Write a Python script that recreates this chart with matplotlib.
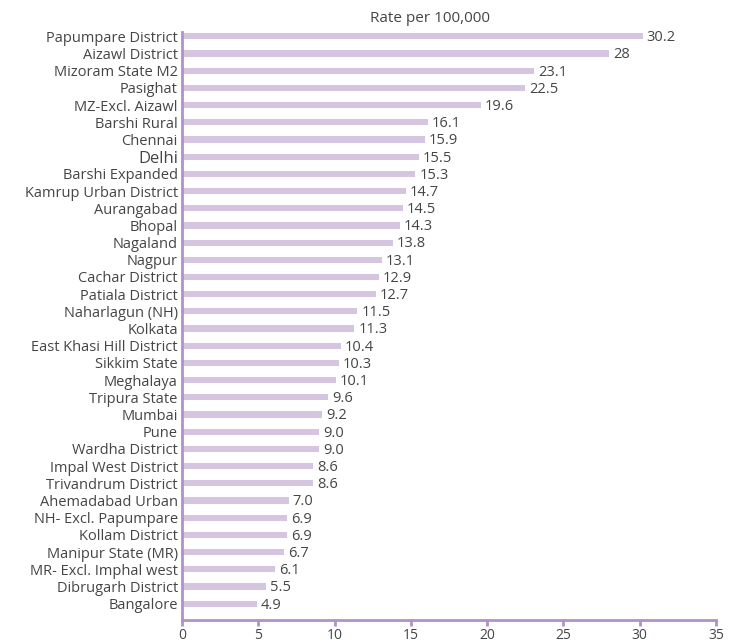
import matplotlib.pyplot as plt
import numpy as np

plt.rcParams["font.family"] = ["Open Sans", "DejaVu Sans"]

places = [
    "Papumpare District", "Aizawl District", "Mizoram State M2", "Pasighat",
    "MZ-Excl. Aizawl", "Barshi Rural", "Chennai", "Delhi", "Barshi Expanded",
    "Kamrup Urban District", "Aurangabad", "Bhopal", "Nagaland", "Nagpur",
    "Cachar District", "Patiala District", "Naharlagun (NH)", "Kolkata",
    "East Khasi Hill District", "Sikkim State", "Meghalaya", "Tripura State",
    "Mumbai", "Pune", "Wardha District", "Impal West District",
    "Trivandrum District", "Ahemadabad Urban", "NH- Excl. Papumpare",
    "Kollam District", "Manipur State (MR)", "MR- Excl. Imphal west",
    "Dibrugarh District", "Bangalore",
]
rates = [30.2, 28, 23.1, 22.5, 19.6, 16.1, 15.9, 15.5, 15.3, 14.7, 14.5, 14.3,
         13.8, 13.1, 12.9, 12.7, 11.5, 11.3, 10.4, 10.3, 10.1, 9.6, 9.2, 9.0,
         9.0, 8.6, 8.6, 7.0, 6.9, 6.9, 6.7, 6.1, 5.5, 4.9]
rate_labels = ["30.2", "28", "23.1", "22.5", "19.6", "16.1", "15.9", "15.5",
               "15.3", "14.7", "14.5", "14.3", "13.8", "13.1", "12.9", "12.7",
               "11.5", "11.3", "10.4", "10.3", "10.1", "9.6", "9.2", "9.0",
               "9.0", "8.6", "8.6", "7.0", "6.9", "6.9", "6.7", "6.1", "5.5",
               "4.9"]
xticks = [0, 5, 10, 15, 20, 25, 30, 35]

txt = "#454545"
bar_col = "#d5c5e1"
axis_col = "#b390c6"

fig = plt.figure(figsize=(7.29, 6.44), dpi=100)
ax = fig.add_axes([0.2497, 0.0373, 0.7325, 0.9130])

n = len(places)
ypos = np.arange(n)[::-1]
ax.barh(ypos, rates, height=0.36, color=bar_col)

for y, v, lab in zip(ypos, rates, rate_labels):
    ax.text(v + 0.25, y - 0.08, lab, va="center", ha="left", fontsize=10.5,
            color=txt)

ax.set_yticks(ypos)
ax.set_yticklabels(places, fontsize=10.5, color=txt)
for lab in ax.get_yticklabels():
    if lab.get_text() == "Delhi":
        lab.set_fontsize(12)
ax.tick_params(axis="y", length=0, pad=3)

ax.set_xlim(0, 35)
ax.set_ylim(-0.95, n - 1 + 0.25)
ax.set_xticks(xticks)
ax.tick_params(axis="x", direction="out", length=4, width=2, color=axis_col,
               labelsize=10, labelcolor=txt, pad=1.5)

for s in ["top", "right"]:
    ax.spines[s].set_visible(False)
for s in ["left", "bottom"]:
    ax.spines[s].set_color(axis_col)
    ax.spines[s].set_linewidth(2)

fig.text(0.59, 0.972, "Rate per 100,000", ha="center", va="center",
         fontsize=11, color=txt)

plt.savefig("out.png", dpi=100)
